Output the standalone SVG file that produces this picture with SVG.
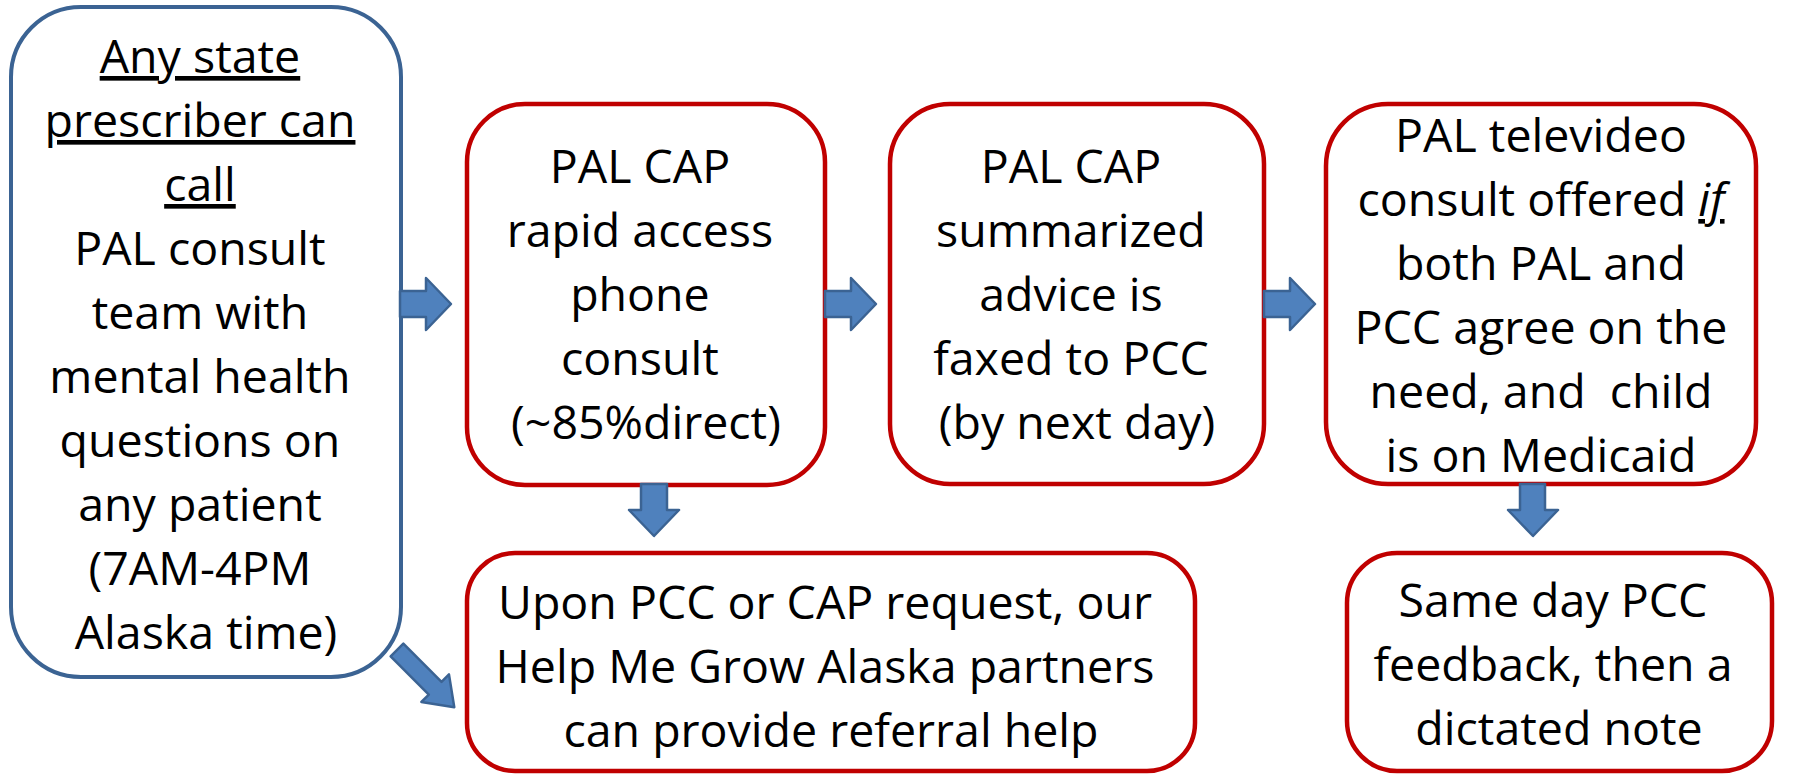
<svg xmlns="http://www.w3.org/2000/svg" width="1794" height="775" viewBox="0 0 1794 775">
  <style>
    .blue { fill: #ffffff; stroke: #3B6393; stroke-width: 4; }
    .red { fill: #ffffff; stroke: #C00000; stroke-width: 4.5; }
    .t { font-family: "Open Sans", "Liberation Sans", sans-serif; font-size: 46.5px; fill: #000000; text-anchor: middle; }
    .u { text-decoration: underline; }
    .arrow { fill: #4F81BD; stroke: #3B6393; stroke-width: 2.5; stroke-linejoin: round; }
  </style>
  <rect width="1794" height="775" fill="#ffffff"/>

  <g id="node-start">
    <rect class="blue" x="11" y="7" width="390" height="670" rx="70" ry="70"/>
    <text class="t">
      <tspan class="u" x="206" y="73">Any state</tspan>
      <tspan class="u" x="206" y="137">prescriber can</tspan>
      <tspan class="u" x="206" y="201">call</tspan>
      <tspan x="206" y="265">PAL consult</tspan>
      <tspan x="206" y="329">team with</tspan>
      <tspan x="206" y="393">mental health</tspan>
      <tspan x="206" y="457">questions on</tspan>
      <tspan x="206" y="521">any patient</tspan>
      <tspan x="206" y="585">(7AM-4PM</tspan>
      <tspan x="206" y="649">Alaska time)</tspan>
    </text>
  </g>

  <g id="node-phone">
    <rect class="red" x="467" y="104" width="358" height="381" rx="58" ry="58"/>
    <text class="t">
      <tspan x="646" y="183">PAL CAP</tspan>
      <tspan x="646" y="247">rapid access</tspan>
      <tspan x="646" y="311">phone</tspan>
      <tspan x="646" y="375">consult</tspan>
      <tspan x="646" y="439">(~85%direct)</tspan>
    </text>
  </g>

  <g id="node-fax">
    <rect class="red" x="890" y="104" width="374" height="380" rx="60" ry="60"/>
    <text class="t">
      <tspan x="1077" y="183">PAL CAP</tspan>
      <tspan x="1077" y="247">summarized</tspan>
      <tspan x="1077" y="311">advice is</tspan>
      <tspan x="1077" y="375">faxed to PCC</tspan>
      <tspan x="1077" y="439">(by next day)</tspan>
    </text>
  </g>

  <g id="node-televideo">
    <rect class="red" x="1326" y="104" width="430" height="380" rx="62" ry="62"/>
    <text class="t" xml:space="preserve"><tspan x="1541" y="152">PAL televideo</tspan><tspan x="1541" y="216">consult offered <tspan class="u" font-style="italic">if</tspan></tspan><tspan x="1541" y="280">both PAL and</tspan><tspan x="1541" y="344">PCC agree on the</tspan><tspan x="1541" y="408">need, and  child</tspan><tspan x="1541" y="472">is on Medicaid</tspan></text>
  </g>

  <g id="node-referral">
    <rect class="red" x="467" y="553" width="728" height="218" rx="48" ry="48"/>
    <text class="t">
      <tspan x="831" y="619">Upon PCC or CAP request, our</tspan>
      <tspan x="831" y="683">Help Me Grow Alaska partners</tspan>
      <tspan x="831" y="747">can provide referral help</tspan>
    </text>
  </g>

  <g id="node-feedback">
    <rect class="red" x="1347" y="553" width="425" height="218" rx="50" ry="50"/>
    <text class="t">
      <tspan x="1559" y="617">Same day PCC</tspan>
      <tspan x="1559" y="681">feedback, then a</tspan>
      <tspan x="1559" y="745">dictated note</tspan>
    </text>
  </g>

  <g id="connectors">
    <path class="arrow" d="M400,291 H426 V278 L451,304 L426,330 V317 H400 Z"/>
    <path class="arrow" d="M825,291 H851 V278 L876,304 L851,330 V317 H825 Z"/>
    <path class="arrow" d="M1264,291 H1290 V278 L1315,304 L1290,330 V317 H1264 Z"/>
    <path class="arrow" d="M641,484 V510 H629 L654,536 L679,510 H667 V484 Z"/>
    <path class="arrow" d="M1520,484 V510 H1508 L1533,536 L1558,510 H1545 V484 Z"/>
    <path class="arrow" transform="translate(397,650) rotate(45)" d="M0,-9 L54,-9 L54,-19.5 L81,0 L54,19.5 L54,9 L0,9 Z"/>
  </g>
</svg>
